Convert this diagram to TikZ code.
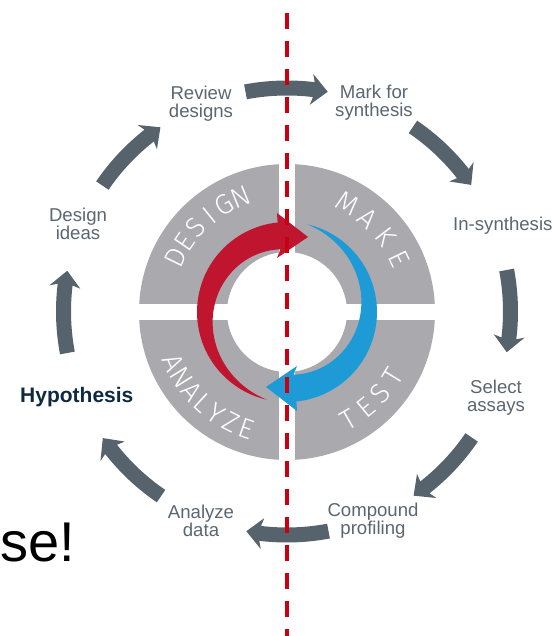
\documentclass[tikz,border=0pt]{standalone}
\usepackage{fontspec}
\setmainfont{Liberation Sans}
\newfontfamily\thinfont{Fira Sans Light}
\usetikzlibrary{calc}
\definecolor{qgray}{HTML}{A9A9AE}
\definecolor{cyred}{HTML}{C0152F}
\definecolor{cyblue}{HTML}{1E9BD7}
\definecolor{ringdark}{HTML}{56636D}
\definecolor{lbl}{HTML}{5A6670}
\definecolor{navy}{HTML}{0E2A40}
\definecolor{dashred}{HTML}{C8000F}
\begin{document}
\begin{tikzpicture}[x=1pt,y=1pt,
  lbltext/.style={text=lbl, font=\fontsize{18.6}{18}\selectfont, align=center, inner sep=0},
  qletter/.style={text=white, font=\thinfont\fontsize{28}{28}\selectfont, inner sep=0},
  ringarrow/.style={fill=ringdark},
  cyclearrow/.style={fill=#1}]
\useasboundingbox (0,0) rectangle (551,636);
\clip (0,0) rectangle (551,636);
% central quadrants
\begin{scope}[shift={(287,324)}]
  \fill[qgray, even odd rule] (0,0) circle[radius=148] (0,0) circle[radius=60];
  \fill[white] (-8,-152) rectangle (8,152);
  \fill[white] (-152,-8) rectangle (152,8);
  \foreach \l/\a [count=\i] in {D/154,E/145.6,S/137.2,I/128.8,G/120.4,N/112}
    \node[qletter, rotate={\a-90}] (ds\i) at (\a:124) {\l};
  \foreach \l/\a [count=\i] in {M/60.8,A/49.1,K/37.4,E/25.6}
    \node[qletter, rotate={\a-90}] (mk\i) at (\a:124) {\l};
  \foreach \l/\a [count=\i] in {A/204,N/211.8,A/219.7,L/227.5,Y/235.3,Z/243.2,E/251}
    \node[qletter, rotate={\a+90}] (an\i) at (\a:124) {\l};
  \foreach \l/\a [count=\i] in {T/300,E/309.5,S/319,T/328.6}
    \node[qletter, rotate={\a+90}] (ts\i) at (\a:124) {\l};
  % red arrow
  \path[cyclearrow=cyred] (-10,54) -- plot[domain=96:257,samples=60] (\x:{90-27*((257-\x)/161)*(1.5-0.5*((257-\x)/161))})
     -- plot[domain=257:96,samples=60] (\x:90) -- (-10,99) -- (21,75) -- cycle;
  % blue arrow
  \begin{scope}[rotate=180]
  \path[cyclearrow=cyblue] (-10,54) -- plot[domain=96:257,samples=60] (\x:{90-27*((257-\x)/161)*(1.5-0.5*((257-\x)/161))})
     -- plot[domain=257:96,samples=60] (\x:90) -- (-10,99) -- (21,75) -- cycle;
  \end{scope}
\end{scope}
% outer ring arrows
\begin{scope}[shift={(287,324.5)}]
  \foreach \t in {90,45,0,-45,-90,-135,-180,-225}
    \path[ringarrow] ({\t+10.7}:231) arc[start angle={\t+10.7}, end angle={\t-6.9}, radius=231]
      -- ({\t-6.3}:239) -- ({\t-10.5}:223.5) -- ({\t-6.3}:208) -- ({\t-6.9}:216)
      arc[start angle={\t-6.9}, end angle={\t+10.7}, radius=216] -- cycle;
\end{scope}
% labels
\node[lbltext] (review) at (201,532.5) {Review\\designs};
\node[lbltext] (mark) at (374,533) {Mark for\\synthesis};
\node[lbltext, anchor=base west] (insyn) at (453,405) {In-synthesis};
\node[lbltext] (select) at (496,238.5) {Select\\assays};
\node[lbltext] (compound) at (373,115) {Compound\\profiling};
\node[lbltext] (analyze) at (201,115.5) {Analyze\\data};
\node[font=\bfseries\fontsize{21}{21}\selectfont, text=navy, anchor=base west, inner sep=0] (hyp) at (20,233) {Hypothesis};
\node[lbltext] (ideas) at (78,412) {Design\\ideas};
\node[font=\fontsize{56}{56}\selectfont, anchor=base east, inner sep=0] (excl) at (75,74) {se!};
% dashed divider
\coordinate (dtop) at (286.7,623);
\coordinate (dbot) at (286.7,-5);
\draw[dashred, line width=4, dash pattern=on 16 off 12] (dtop) -- (dbot);
\end{tikzpicture}
\end{document}
